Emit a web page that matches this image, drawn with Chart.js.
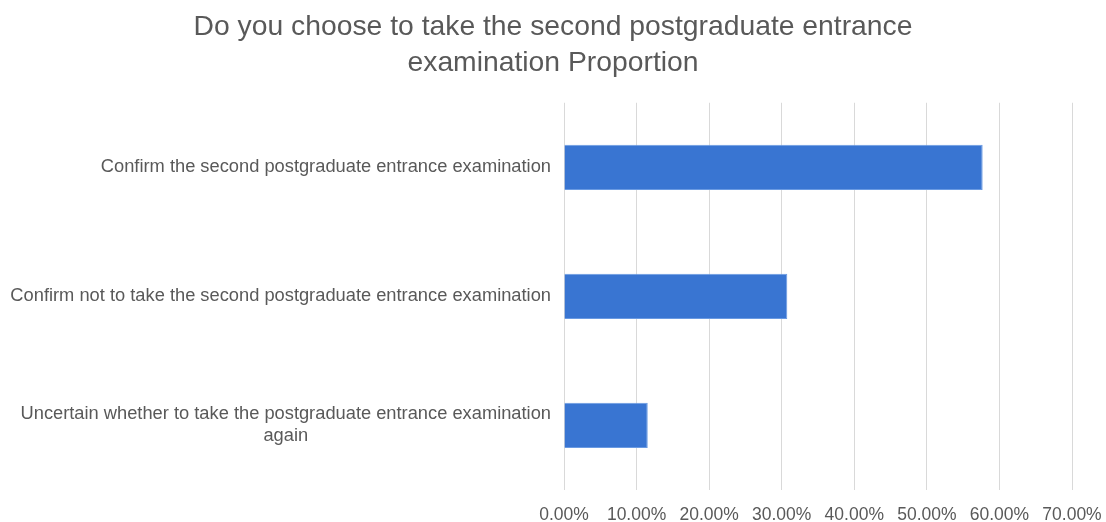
<!DOCTYPE html>
<html>
<head>
<meta charset="utf-8">
<script src="https://cdn.jsdelivr.net/npm/chart.js@4/dist/chart.umd.min.js"></script>
<style>
  html, body { margin: 0; padding: 0; background: #fff; }
  #wrap { width: 1106px; height: 522px; }
</style>
</head>
<body>
<div id="wrap"><canvas id="chart" width="1106" height="522"></canvas></div>
<script>
// Data
const titleLines = ['Do you choose to take the second postgraduate entrance', 'examination Proportion'];
const categories = [
    'Confirm the second postgraduate entrance examination',
    'Confirm not to take the second postgraduate entrance examination',
    ['Uncertain whether to take the postgraduate entrance examination', 'again']
];
const proportions = [57.69, 30.77, 11.54];
const xTicks = [0, 10, 20, 30, 40, 50, 60, 70];

const textColor = '#595959';
const fontFamily = '"Liberation Sans", Arial, Helvetica, sans-serif';

// draws the category labels, each block right-aligned, lines centred within it
const categoryLabels = {
    id: 'categoryLabels',
    afterDraw(chart) {
        const ctx = chart.ctx;
        const yScale = chart.scales.y;
        const rightX = chart.chartArea.left - 13;
        const lineH = 22;
        ctx.save();
        ctx.font = '18.3px ' + fontFamily;
        ctx.fillStyle = textColor;
        ctx.textAlign = 'center';
        ctx.textBaseline = 'middle';
        categories.forEach((lab, i) => {
            const lines = Array.isArray(lab) ? lab : [lab];
            const maxW = Math.max(...lines.map(l => ctx.measureText(l).width));
            const cx = rightX - maxW / 2;
            const py = yScale.getPixelForValue(i);
            lines.forEach((ln, j) => {
                ctx.fillText(ln, cx, py + (j - (lines.length - 1) / 2) * lineH);
            });
        });
        ctx.restore();
    }
};

new Chart(document.getElementById('chart').getContext('2d'), {
    type: 'bar',
    data: {
        labels: categories,
        datasets: [{
            data: proportions,
            backgroundColor: '#3975D2',
            borderColor: '#6A9AE2',
            borderWidth: 1,
            barPercentage: 0.35,
            categoryPercentage: 1
        }]
    },
    options: {
        indexAxis: 'y',
        responsive: false,
        animation: false,
        layout: { padding: { left: 34, right: 34, top: 0, bottom: 0 } },
        plugins: {
            legend: { display: false },
            tooltip: { enabled: false },
            title: {
                display: true,
                text: titleLines,
                color: textColor,
                font: { family: fontFamily, size: 28.3, weight: 'normal', lineHeight: 1.25 },
                padding: { top: 10, bottom: 22 }
            }
        },
        scales: {
            x: {
                min: 0,
                max: 70,
                afterBuildTicks: (scale) => { scale.ticks = xTicks.map(v => ({ value: v })); },
                afterFit: (scale) => {
                    scale.height = 32;
                    scale.paddingLeft = 0;
                    scale.paddingRight = 0;
                },
                grid: { color: '#D9D9D9', lineWidth: 1, drawTicks: false },
                border: { display: false },
                ticks: {
                    color: textColor,
                    padding: 15,
                    font: { family: fontFamily, size: 17.5 },
                    callback: (v) => v.toFixed(2) + '%'
                }
            },
            y: {
                grid: { display: false },
                border: { display: false },
                ticks: { display: false },
                afterFit: (scale) => { scale.width = 530; }
            }
        }
    },
    plugins: [categoryLabels]
});
</script>
</body>
</html>
